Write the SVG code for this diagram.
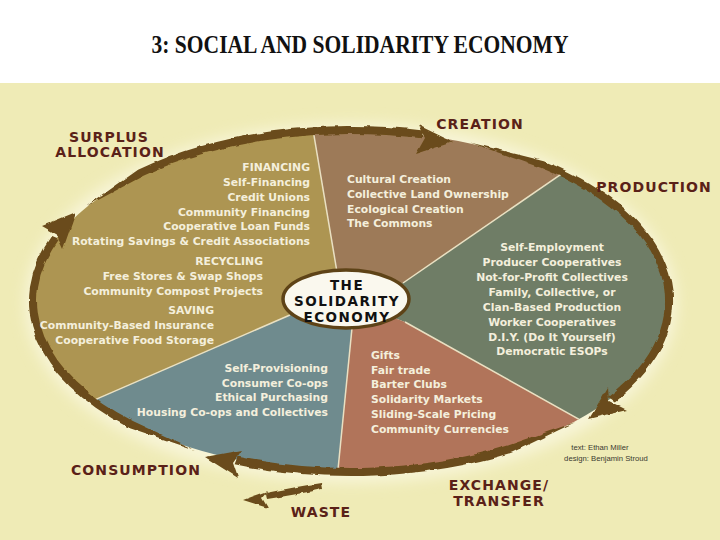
<svg xmlns="http://www.w3.org/2000/svg" width="720" height="540" viewBox="0 0 720 540">
  <defs>
    <clipPath id="pie">
      <ellipse cx="351" cy="301" rx="317" ry="170"/>
    </clipPath>
    <filter id="rough" x="-5%" y="-5%" width="110%" height="110%">
      <feTurbulence type="fractalNoise" baseFrequency="0.09" numOctaves="2" seed="3" result="n"/>
      <feDisplacementMap in="SourceGraphic" in2="n" scale="4" xChannelSelector="R" yChannelSelector="G"/>
    </filter>
    <filter id="glow" x="-10%" y="-10%" width="120%" height="120%">
      <feGaussianBlur stdDeviation="7"/>
    </filter>
    <style>
      .sec { font-family: "DejaVu Sans", "Liberation Sans", sans-serif; font-weight: bold; font-size: 10.8px; fill: #F4EFDC; }
      .lbl { font-family: "DejaVu Sans", "Liberation Sans", sans-serif; font-weight: bold; font-size: 14px; letter-spacing: 1.1px; fill: #5A2118; text-anchor: middle; }
      .ctr { font-family: "DejaVu Sans", "Liberation Sans", sans-serif; font-weight: bold; font-size: 13.5px; letter-spacing: 1.5px; fill: #111111; text-anchor: middle; }
      .cred { font-family: "Liberation Sans", Arial, sans-serif; font-size: 7.7px; fill: #3A3A30; text-anchor: middle; }
      .div { stroke: #E9E0C2; stroke-width: 1.5; fill: none; }
      .brush { fill: #6B4C1A; }
    </style>
  </defs>

  <!-- background -->
  <rect x="0" y="0" width="720" height="540" fill="#FFFFFF"/>
  <rect x="0" y="83" width="720" height="457" fill="#EFEBB6"/>

  <text x="360" y="53" font-family="Liberation Serif, Times New Roman, serif" font-weight="bold" font-size="25" text-anchor="middle" textLength="417" lengthAdjust="spacingAndGlyphs" fill="#111111">3: SOCIAL AND SOLIDARITY ECONOMY</text>

  <!-- soft halo -->
  <ellipse cx="351" cy="303" rx="326" ry="180" fill="#F8F5D8" filter="url(#glow)"/>

  <!-- sectors -->
  <g clip-path="url(#pie)">
    <g id="sector-surplus">
      <polygon points="347,300 337,272 308,100 0,100 0,441 290,315" fill="#AD9552"/>
    </g>
    <g id="sector-creation">
      <polygon points="347,300 337,272 308,100 650,100 650,113 403,283" fill="#9D7A58"/>
    </g>
    <g id="sector-production">
      <polygon points="347,300 403,283 650,113 720,113 720,487 700,487 405,322" fill="#6F7D66"/>
    </g>
    <g id="sector-exchange">
      <polygon points="347,300 405,322 700,487 720,487 720,540 333,540 333,520 352,328" fill="#B1745A"/>
    </g>
    <g id="sector-consumption">
      <polygon points="347,300 352,328 333,520 333,540 0,540 0,441 290,315" fill="#6F8B8E"/>
    </g>
    <g id="dividers">
      <line class="div" x1="337" y1="272" x2="308" y2="100"/>
      <line class="div" x1="403" y1="283" x2="650" y2="113"/>
      <line class="div" x1="405" y1="322" x2="700" y2="487"/>
      <line class="div" x1="352" y1="328" x2="333" y2="520"/>
      <line class="div" x1="290" y1="315" x2="0" y2="441"/>
    </g>
  </g>

  <!-- connectors: brush arrows around the cycle -->
  <g id="connectors" filter="url(#rough)">
    <g id="arrow-to-creation">
      <path class="brush" d="M 86.1 206.4 L 138.1 169.7 A 322 175 0 0 1 423.4 130.5 L 421.7 138.3 A 314 167 0 0 0 143.4 175.7 Z"/>
      <path class="brush" d="M 453 142 L 418 125 L 425 138 L 416 154 Z"/>
    </g>
    <g id="arrow-to-exchange">
      <path class="brush" d="M 470.1 142.5 L 544.8 161.2 A 322 175 0 0 1 614.8 401.4 L 608.2 396.8 A 314 167 0 0 0 540 167.6 Z"/>
      <path class="brush" d="M 589 419 L 608 387 L 609 401 L 627 410 Z"/>
    </g>
    <g id="arrow-to-consumption">
      <path class="brush" d="M 575.1 422.3 L 512 452.6 A 322 175 0 0 1 234.6 464.2 L 237.5 456.7 A 314 167 0 0 0 508 445.6 Z"/>
      <path class="brush" d="M 205 457 L 242 450 L 233 463 L 238 478 Z"/>
    </g>
    <g id="arrow-to-surplus">
      <path class="brush" d="M 194.9 450 L 127.3 426.9 A 322 175 0 0 1 51.2 237.1 L 58.6 240.1 A 314 167 0 0 0 132.9 421.1 Z"/>
      <path class="brush" d="M 76 212 L 42 226 L 56 234 L 63 249 Z"/>
    </g>
    <g id="arrow-waste">
      <path class="brush" d="M 321 483 Q 300 486 266 493 L 267 499 Q 300 494 322 489 Z"/>
      <path class="brush" d="M 243 500 L 268 491 L 262 498 L 268 508 Z"/>
    </g>
  </g>

  <!-- sector texts -->
  <g id="text-surplus" class="sec" text-anchor="end">
    <text x="310" y="171">FINANCING</text>
    <text x="310" y="186">Self-Financing</text>
    <text x="310" y="201">Credit Unions</text>
    <text x="310" y="215.5">Community Financing</text>
    <text x="310" y="230">Cooperative Loan Funds</text>
    <text x="310" y="245">Rotating Savings &amp; Credit Associations</text>
    <text x="263" y="265">RECYCLING</text>
    <text x="263" y="280">Free Stores &amp; Swap Shops</text>
    <text x="263" y="295">Community Compost Projects</text>
    <text x="214" y="314">SAVING</text>
    <text x="214" y="329">Community-Based Insurance</text>
    <text x="214" y="344">Cooperative Food Storage</text>
  </g>
  <g id="text-creation" class="sec" text-anchor="start">
    <text x="347" y="183">Cultural Creation</text>
    <text x="347" y="197.5">Collective Land Ownership</text>
    <text x="347" y="212.5">Ecological Creation</text>
    <text x="347" y="227">The Commons</text>
  </g>
  <g id="text-production" class="sec" text-anchor="middle">
    <text x="552" y="251">Self-Employment</text>
    <text x="552" y="266">Producer Cooperatives</text>
    <text x="552" y="281">Not-for-Profit Collectives</text>
    <text x="552" y="296">Family, Collective, or</text>
    <text x="552" y="311">Clan-Based Production</text>
    <text x="552" y="326">Worker Cooperatives</text>
    <text x="552" y="340.5">D.I.Y. (Do It Yourself)</text>
    <text x="552" y="355">Democratic ESOPs</text>
  </g>
  <g id="text-exchange" class="sec" text-anchor="start">
    <text x="371" y="359">Gifts</text>
    <text x="371" y="373.5">Fair trade</text>
    <text x="371" y="388">Barter Clubs</text>
    <text x="371" y="403">Solidarity Markets</text>
    <text x="371" y="418">Sliding-Scale Pricing</text>
    <text x="371" y="433">Community Currencies</text>
  </g>
  <g id="text-consumption" class="sec" text-anchor="end">
    <text x="328" y="372">Self-Provisioning</text>
    <text x="328" y="386.5">Consumer Co-ops</text>
    <text x="328" y="401">Ethical Purchasing</text>
    <text x="328" y="416">Housing Co-ops and Collectives</text>
  </g>

  <!-- center -->
  <g id="center">
    <ellipse cx="346" cy="299" rx="63" ry="29" fill="#FAF8EE" stroke="#5E4317" stroke-width="3.5"/>
    <text class="ctr" x="347" y="289.5">THE</text>
    <text class="ctr" x="347" y="306">SOLIDARITY</text>
    <text class="ctr" x="347" y="322">ECONOMY</text>
  </g>

  <!-- stage labels -->
  <g id="label-surplus">
    <text class="lbl" x="109" y="142">SURPLUS</text>
    <text class="lbl" x="110" y="157">ALLOCATION</text>
  </g>
  <g id="label-creation"><text class="lbl" x="480" y="129">CREATION</text></g>
  <g id="label-production"><text class="lbl" x="654" y="192">PRODUCTION</text></g>
  <g id="label-exchange">
    <text class="lbl" x="499" y="490">EXCHANGE/</text>
    <text class="lbl" x="499" y="506">TRANSFER</text>
  </g>
  <g id="label-consumption"><text class="lbl" x="136" y="475">CONSUMPTION</text></g>
  <g id="label-waste"><text class="lbl" x="321" y="517">WASTE</text></g>

  <g id="credits">
    <text class="cred" x="600" y="450">text: Ethan Miller</text>
    <text class="cred" x="606" y="461">design: Benjamin Stroud</text>
  </g>
</svg>
